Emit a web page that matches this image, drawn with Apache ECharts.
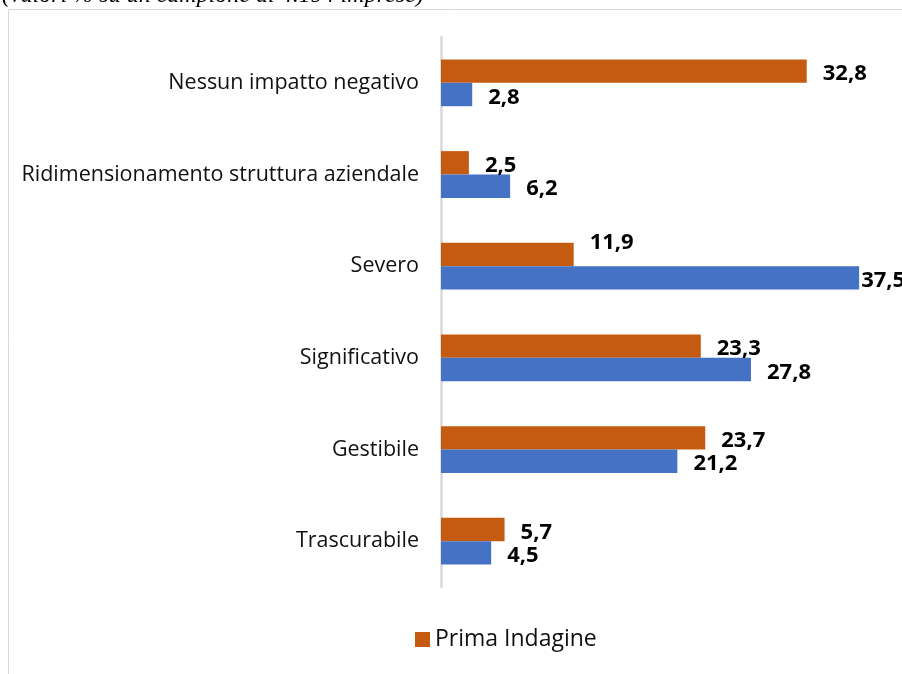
<!DOCTYPE html>
<html><head><meta charset="utf-8">
<script src="https://cdn.jsdelivr.net/npm/echarts@6/dist/echarts.min.js"></script>
<style>html,body{margin:0;padding:0;background:#fff}#c{width:902px;height:674px}</style>
</head><body><div id="c"></div>
<script>
const categories = ['Trascurabile','Gestibile','Significativo','Severo','Ridimensionamento struttura aziendale','Nessun impatto negativo'];
const primaIndagine = [5.7, 23.7, 23.3, 11.9, 2.5, 32.8];
const secondaIndagine = [4.5, 21.2, 27.8, 37.5, 6.2, 2.8];
const titleText = '(valori % su un campione di 4.194 imprese)';

const fmt = p => String(p.value).replace('.', ',');
const labelFont = {fontFamily:'Open Sans', fontWeight:'bold', fontSize:22, color:'#000'};
const chart = echarts.init(document.getElementById('c'), null, {renderer:'canvas'});
chart.setOption({
  animation:false,
  backgroundColor:'#fff',
  graphic:[
    {type:'rect', shape:{x:8.5,y:9.5,width:1000,height:1000}, style:{fill:'none', stroke:'#d9d9d9', lineWidth:1}},
    {type:'text', left:2, top:-16, style:{text:titleText, font:'italic 24px "Liberation Serif"', fill:'#000'}}
  ],
  legend:{data:['Prima Indagine'], left:410, top:623, itemWidth:15, itemHeight:15, itemGap:6,
    icon:'rect', textStyle:{fontFamily:'Open Sans', fontSize:23, color:'#111'}},
  grid:{left:441, right:15, top:37, height:550, containLabel:false},
  xAxis:{type:'value', min:0, max:40, show:false},
  yAxis:{type:'category', data:categories,
    axisLine:{show:true, lineStyle:{color:'#d9d9d9', width:2.5}},
    axisTick:{show:false},
    axisLabel:{fontFamily:'Open Sans', fontSize:21.5, color:'#111', margin:22}},
  series:[
    {name:'Prima Indagine', type:'bar', data:primaIndagine.map((v,i)=>{
        const o={value:v};
        if(i===3) o.label={offset:[0,-12]};
        return o;}),
     itemStyle:{color:'#c55a11'}, barGap:'0%', barCategoryGap:'49%',
     label:{show:true, position:'right', distance:16, offset:[0,3], formatter:fmt, ...labelFont}},
    {name:'Seconda Indagine', type:'bar', data:secondaIndagine.map((v,i)=>{
        const o={value:v};
        if(i===3) o.label={distance:2};
        return o;}),
     itemStyle:{color:'#4472c4'}, barGap:'0%', barCategoryGap:'49%',
     label:{show:true, position:'right', distance:16, offset:[0,3], formatter:fmt, ...labelFont}}
  ]
});
</script></body></html>
